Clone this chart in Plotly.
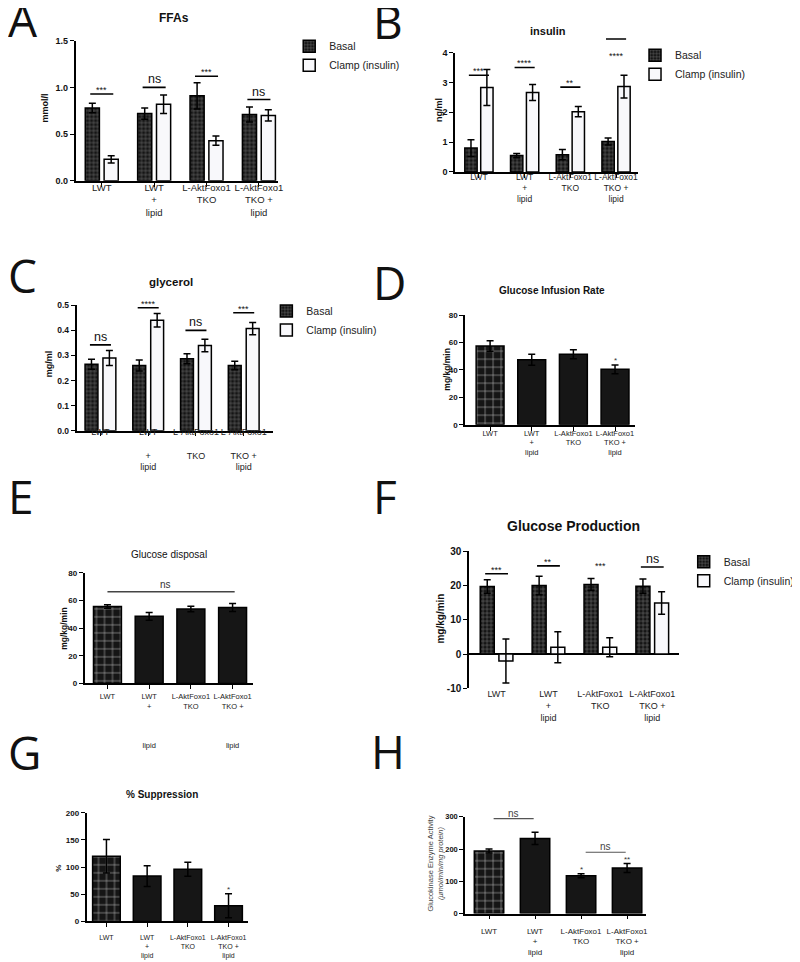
import plotly.graph_objects as go

# The page body has an 8px default margin, so the figure is sized to 792x954
# and reference pixel coordinates are shifted by 8px.
OFF = 8
W, H = 800 - OFF, 962 - OFF
def px(x): return (x - OFF) / W
def py(y): return 1 - (y - OFF) / H

FONT = "Liberation Sans, Arial, Helvetica, sans-serif"
LFONT = "Open Sans, DejaVu Sans, sans-serif"

# ---------------- data ----------------
groups = ["LWT", "LWT + lipid", "L-AktFoxo1 TKO", "L-AktFoxo1 TKO + lipid"]
series_names = ["Basal", "Clamp (insulin)"]

ticks_std = ["LWT", "LWT<br>+<br>lipid", "L-AktFoxo1<br>TKO", "L-AktFoxo1<br>TKO +<br>lipid"]
ticks_C = ["LWT", "LWT<br><br>+<br>lipid", "L-AktFoxo1<br><br>TKO", "L-AktFoxo1<br><br>TKO +<br>lipid"]
ticks_E = ["LWT", "LWT<br>+<br><br><br><br>lipid", "L-AktFoxo1<br>TKO", "L-AktFoxo1<br>TKO +<br><br><br><br>lipid"]

# A: FFAs (mmol/l)
A_basal = [0.78, 0.72, 0.91, 0.71]
A_basal_err = [0.05, 0.06, 0.14, 0.08]
A_clamp = [0.23, 0.82, 0.43, 0.70]
A_clamp_err = [0.04, 0.10, 0.05, 0.06]
A_sig = ["***", "ns", "***", "ns"]
A_sig_line = [0.93, 1.00, 1.12, 0.87]
A_sig_text = [0.93, 1.00, 1.12, 0.87]

# B: insulin (ng/ml)
B_basal = [0.80, 0.55, 0.58, 1.02]
B_basal_err = [0.28, 0.07, 0.17, 0.12]
B_clamp = [2.83, 2.66, 2.02, 2.86]
B_clamp_err = [0.60, 0.27, 0.17, 0.38]
B_sig = ["***", "****", "**", "****"]
B_sig_line = [3.24, 3.50, 2.84, 4.45]
B_sig_text = [3.24, 3.50, 2.84, 3.75]

# C: glycerol (mg/ml)
C_basal = [0.265, 0.260, 0.287, 0.260]
C_basal_err = [0.020, 0.022, 0.020, 0.017]
C_clamp = [0.290, 0.440, 0.340, 0.407]
C_clamp_err = [0.030, 0.027, 0.025, 0.024]
C_sig = ["ns", "****", "ns", "***"]
C_sig_line = [0.342, 0.490, 0.400, 0.470]
C_sig_text = [0.342, 0.490, 0.400, 0.470]

# D: Glucose Infusion Rate (mg/kg/min)
D_vals = [57.5, 47.5, 51.5, 40.5]
D_err = [3.8, 4.0, 3.3, 3.2]
D_sig = ["", "", "", "*"]

# E: Glucose disposal (mg/kg/min)
E_vals = [55.7, 48.6, 53.8, 55.0]
E_err = [1.2, 2.8, 2.0, 2.9]
E_ns_level = 66.4

# F: Glucose Production (mg/kg/min)
F_basal = [19.7, 20.0, 20.3, 19.8]
F_basal_err = [2.0, 2.7, 1.7, 2.1]
F_clamp = [-2.0, 2.0, 2.0, 14.9]
F_clamp_err = [6.4, 4.5, 2.8, 3.3]
F_sig = ["***", "**", "***", "ns"]
F_sig_line = [23.4, 25.7, None, 25.4]
F_sig_text = [23.4, 25.7, 24.6, 25.4]

# G: % Suppression
G_vals = [120.0, 83.5, 96.0, 29.0]
G_err = [31.0, 19.0, 13.0, 22.0]
G_sig = ["", "", "", "*"]

# H: Glucokinase enzyme activity
H_vals = [194.0, 233.0, 117.0, 141.0]
H_err = [6.0, 19.0, 6.0, 14.0]
H_sig = ["", "", "*", "**"]
H_ns_pairs = [(0, 1), (2, 3)]
H_ns_levels = [294.0, 190.0]

pos = list(range(len(groups)))

# ---------------- layout geometry (reference pixels) ----------------
geom = {
    1: dict(dx=(76, 280), dy=(35, 177), xr=[-0.5, 3.37], yr=[0, 1.5], dt=0.5, fmt=".1f"),
    2: dict(dx=(458, 642), dy=(47, 168), xr=[-0.52, 3.48], yr=[0, 4], dt=1, fmt="d"),
    3: dict(dx=(77, 275), dy=(303, 430), xr=[-0.5, 3.62], yr=[0, 0.5], dt=0.1, fmt=".1f"),
    4: dict(dx=(468, 639), dy=(313, 424), xr=[-0.6, 3.48], yr=[0, 80], dt=20, fmt="d"),
    5: dict(dx=(85, 255), dy=(574, 686), xr=[-0.55, 3.5], yr=[0, 80], dt=20, fmt="d"),
    6: dict(dx=(472, 683), dy=(552, 691), xr=[-0.53, 3.51], yr=[-10, 30], dt=10, fmt="d"),
    7: dict(dx=(87, 250), dy=(817, 927), xr=[-0.49, 3.49], yr=[0, 200], dt=50, fmt="d"),
    8: dict(dx=(468, 650), dy=(821, 919), xr=[-0.52, 3.41], yr=[0, 300], dt=100, fmt="d"),
}
tickfs = {1: 9.5, 2: 8.5, 3: 9, 4: 7.5, 5: 7.5, 6: 9, 7: 7, 8: 8}
ytickfs = {1: 9, 2: 9, 3: 8.5, 4: 8, 5: 8, 6: 10, 7: 8, 8: 7.5}
xstand = {1: -7, 2: -8, 3: -12, 4: -4, 5: 1, 6: -1, 7: 4, 8: 5}
xticktext = {1: ticks_std, 2: ticks_std, 3: ticks_C, 4: ticks_std, 5: ticks_E,
             6: ticks_std, 7: ticks_std, 8: ticks_std}

fig = go.Figure()

BLACK = "#151515"
WHITE = "#f8f8fb"

def axn(i):
    return ("x" if i == 1 else f"x{i}"), ("y" if i == 1 else f"y{i}")

def err(arr):
    return dict(type="data", array=arr, color="black", thickness=1.5, width=3.5, visible=True)

def grouped(i, basal, berr, clamp, cerr, legend, bw=0.27, sep=0.18):
    xa, ya = axn(i)
    fig.add_trace(go.Bar(
        x=pos, y=basal, width=bw, offset=-sep - bw / 2, name=series_names[0],
        xaxis=xa, yaxis=ya, legend=legend, error_y=err(berr),
        marker=dict(color=BLACK, line=dict(color="black", width=1.5),
                    pattern=dict(shape="+", fillmode="overlay", fgcolor="#777777",
                                 fgopacity=1, size=4, solidity=0.25))))
    fig.add_trace(go.Bar(
        x=pos, y=clamp, width=bw, offset=sep - bw / 2, name=series_names[1],
        xaxis=xa, yaxis=ya, legend=legend, error_y=err(cerr),
        marker=dict(color=WHITE, line=dict(color="black", width=1.5))))

def single(i, vals, verr, bw=0.67):
    xa, ya = axn(i)
    fig.add_trace(go.Bar(
        x=pos[:1], y=vals[:1], width=bw, offset=-bw / 2, name=groups[0],
        xaxis=xa, yaxis=ya, showlegend=False, error_y=err(verr[:1]),
        marker=dict(color=BLACK, line=dict(color="black", width=1.5),
                    pattern=dict(shape="+", fillmode="overlay", fgcolor="#b8b8b8",
                                 fgopacity=1, size=8, solidity=0.14))))
    fig.add_trace(go.Bar(
        x=pos[1:], y=vals[1:], width=bw, offset=-bw / 2, name="groups",
        xaxis=xa, yaxis=ya, showlegend=False, error_y=err(verr[1:]),
        marker=dict(color="#161616", line=dict(color="black", width=1.5))))

grouped(1, A_basal, A_basal_err, A_clamp, A_clamp_err, "legend")
grouped(2, B_basal, B_basal_err, B_clamp, B_clamp_err, "legend2", sep=0.174)
grouped(3, C_basal, C_basal_err, C_clamp, C_clamp_err, "legend3", sep=0.1875)
single(4, D_vals, D_err, bw=0.67)
single(5, E_vals, E_err, bw=0.67)
grouped(6, F_basal, F_basal_err, F_clamp, F_clamp_err, "legend4")
single(7, G_vals, G_err, bw=0.68)
single(8, H_vals, H_err, bw=0.64)

layout = dict(width=W, height=H, margin=dict(l=0, r=0, t=0, b=0),
              paper_bgcolor="white", plot_bgcolor="white", barmode="group",
              font=dict(family=FONT, color="black"))

for i, g in geom.items():
    xk = "xaxis" if i == 1 else f"xaxis{i}"
    yk = "yaxis" if i == 1 else f"yaxis{i}"
    xa, ya = axn(i)
    y0, y1 = g["yr"]
    n = int(round((y1 - y0) / g["dt"]))
    tv = [y0 + k * g["dt"] for k in range(n + 1)]
    tt = [format(v, g["fmt"]) if g["fmt"] != "d" else str(int(round(v))) for v in tv]
    layout[xk] = dict(domain=[px(g["dx"][0]), px(g["dx"][1])], range=g["xr"], anchor=ya,
                      showline=(i != 6), linecolor="black", linewidth=1.6,
                      ticks="" if i == 6 else "outside", ticklen=4, tickwidth=1.4, tickcolor="black",
                      tickvals=pos, ticktext=xticktext[i], tickangle=0, ticklabelstandoff=xstand[i],
                      showgrid=False, zeroline=False,
                      tickfont=dict(size=tickfs[i], family=FONT, color="#222"), fixedrange=True)
    layout[yk] = dict(domain=[py(g["dy"][1]), py(g["dy"][0])], range=g["yr"], anchor=xa,
                      showline=True, linecolor="black", linewidth=1.6, ticks="outside",
                      ticklen=4, tickwidth=1.4, tickcolor="black", tickvals=tv, ticktext=tt,
                      showgrid=False, zeroline=(i == 6), zerolinecolor="black", zerolinewidth=2,
                      tickfont=dict(size=ytickfs[i], family=FONT, color="#111", weight="bold"),
                      fixedrange=True)

leg_common = dict(xanchor="left", yanchor="top", bgcolor="rgba(0,0,0,0)", tracegroupgap=0,
                  itemwidth=30, traceorder="normal", font=dict(size=10.5, family=FONT, color="#222"))
layout["legend"] = dict(x=px(291), y=py(26), **leg_common)
layout["legend2"] = dict(x=px(639), y=py(35), **leg_common)
layout["legend3"] = dict(x=px(268), y=py(294), **leg_common)
layout["legend4"] = dict(x=px(688), y=py(548), **leg_common)
fig.update_layout(**layout)

annotations = []
shapes = []

# panel letters
letters = [("A", 6, 13), ("B", 373, 15), ("C", 6, 272), ("D", 373, 279),
           ("E", 6, 496), ("F", 373, 496), ("G", 6, 755), ("H", 371, 754)]
for t, x, y in letters:
    annotations.append(dict(text=t, x=px(x), y=py(y), xref="paper", yref="paper",
                            xanchor="left", yanchor="middle", showarrow=False,
                            font=dict(size=46, family=LFONT, color="#111")))

# panel titles
titles = [("FFAs", 175, 12, 12, "bold"), ("insulin", 551, 25, 11, "bold"),
          ("glycerol", 172, 279, 11.5, "bold"), ("Glucose Infusion Rate", 555, 288, 10, "bold"),
          ("Glucose disposal", 170, 555, 10, "normal"), ("Glucose Production", 577, 527, 14, "bold"),
          ("% Suppression", 163, 798, 10, "bold")]
for t, x, y, s, w in titles:
    annotations.append(dict(text=t, x=px(x), y=py(y), xref="paper", yref="paper",
                            xanchor="center", yanchor="middle", showarrow=False,
                            font=dict(size=s, family=FONT, color="#111", weight=w)))

# y axis titles
ytitles = [("mmol/l", 45, 103, 9, "bold", "#111"), ("ng/ml", 442, 105, 9, "bold", "#111"),
           ("mg/ml", 49, 362, 9, "bold", "#111"), ("mg/kg/min", 450, 368, 8.5, "bold", "#111"),
           ("mg/kg/min", 65, 630, 8.5, "bold", "#111"), ("mg/kg/min", 443, 620, 10, "bold", "#111"),
           ("%", 58, 873, 8, "bold", "#111"),
           ("Glucokinase Enzyme Activity<br><i>(μmol/min/mg protein)</i>", 438, 868, 7.5, "normal", "#444")]
for t, x, y, s, w, c in ytitles:
    annotations.append(dict(text=t, x=px(x), y=py(y), xref="paper", yref="paper",
                            xanchor="center", yanchor="middle", showarrow=False, textangle=-90,
                            font=dict(size=s, family=FONT, color=c, weight=w)))

def ppy(i, v):
    g = geom[i]
    y0, y1 = g["yr"]
    top, bot = g["dy"]
    return py(bot - (v - y0) / (y1 - y0) * (bot - top))

def sig_group(i, sig, line, text, half=0.22, fs_star=9, fs_ns=12.5):
    xa, ya = axn(i)
    g = geom[i]
    for k, (s, ly, ty) in enumerate(zip(sig, line, text)):
        if ly is not None:
            if g["yr"][0] <= ly <= g["yr"][1]:
                shapes.append(dict(type="line", xref=xa, yref=ya, x0=k - half, x1=k + half,
                                   y0=ly, y1=ly, line=dict(color="black", width=1.6)))
            else:
                shapes.append(dict(type="line", xref=xa, yref="paper", x0=k - half, x1=k + half,
                                   y0=ppy(i, ly), y1=ppy(i, ly), line=dict(color="black", width=1.6)))
        ns = s == "ns"
        annotations.append(dict(text=s, x=k, y=ty, xref=xa, yref=ya, showarrow=False,
                                xanchor="center", yanchor="bottom", yshift=(-1 if ns else -3),
                                font=dict(size=fs_ns if ns else fs_star, family=FONT, color="#111")))

sig_group(1, A_sig, A_sig_line, A_sig_text)
sig_group(2, B_sig, B_sig_line, B_sig_text)
sig_group(3, C_sig, C_sig_line, C_sig_text)
sig_group(6, F_sig, F_sig_line, F_sig_text)

def stars_single(i, sig, vals, errs, fs=8):
    xa, ya = axn(i)
    for k, s in enumerate(sig):
        if s:
            annotations.append(dict(text=s, x=k, y=vals[k] + errs[k], xref=xa, yref=ya,
                                    showarrow=False, xanchor="center", yanchor="bottom", yshift=-2,
                                    font=dict(size=fs, family=FONT, color="#333")))

stars_single(4, D_sig, D_vals, D_err)
stars_single(7, G_sig, G_vals, G_err)
stars_single(8, H_sig, H_vals, H_err)

# E: one ns bracket across all groups
shapes.append(dict(type="line", xref="x5", yref="y5", x0=0, x1=3.05, y0=E_ns_level, y1=E_ns_level,
                   line=dict(color="#444", width=1.4)))
annotations.append(dict(text="ns", x=1.4, y=E_ns_level, xref="x5", yref="y5", showarrow=False,
                        xanchor="center", yanchor="bottom", font=dict(size=10, family=FONT, color="#333")))

# H: ns brackets
for (a, b), lv in zip(H_ns_pairs, H_ns_levels):
    shapes.append(dict(type="line", xref="x8", yref="y8", x0=a + 0.1, x1=b - 0.03, y0=lv, y1=lv,
                       line=dict(color="#555", width=1.2)))
    annotations.append(dict(text="ns", x=(a + b) / 2 + 0.03, y=lv, xref="x8", yref="y8", showarrow=False,
                            xanchor="center", yanchor="bottom", yshift=-2,
                            font=dict(size=10, family=FONT, color="#444")))

fig.update_layout(annotations=annotations, shapes=shapes)
fig.write_html("out.html")
